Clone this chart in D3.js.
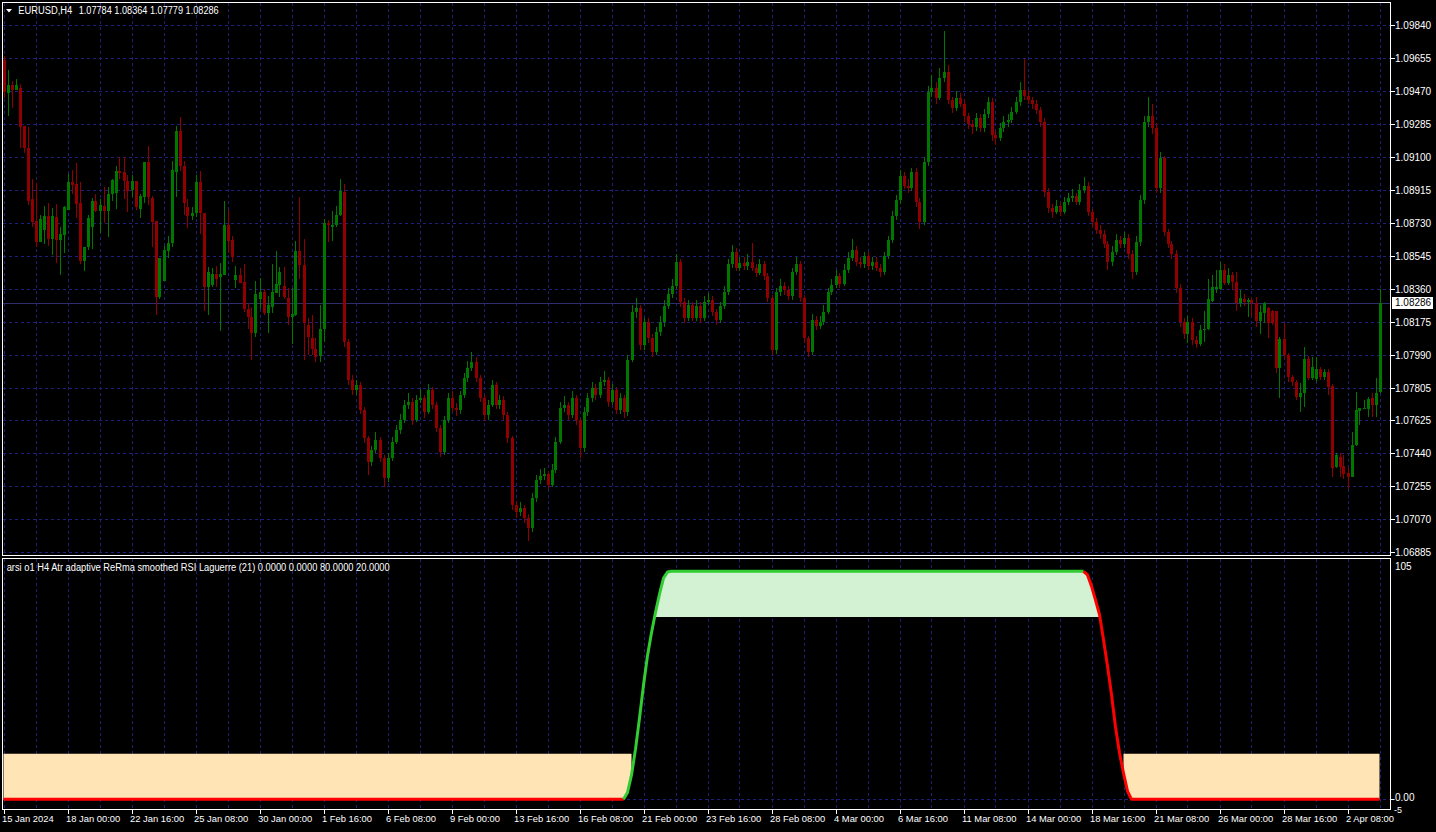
<!DOCTYPE html>
<html><head><meta charset="utf-8">
<script src="https://cdn.jsdelivr.net/npm/d3@7/dist/d3.min.js"></script>
<style>
html,body{margin:0;padding:0;background:#000;overflow:hidden}
text{font-family:"Liberation Sans",Arial,sans-serif;fill:#fff}
</style></head>
<body><svg id="c" width="1436" height="832"></svg>
<script>
// ---------- DATA ----------
const symbolTitle = "EURUSD,H4";
const ohlcTitle = "1.07784 1.08364 1.07779 1.08286";
const indTitle = "arsi o1 H4 Atr adaptive ReRma smoothed RSI Laguerre (21) 0.0000 0.0000 80.0000 20.0000";
const bidPrice = 1.08286;
const priceLabels = ["1.09840","1.09655","1.09470","1.09285","1.09100","1.08915","1.08730","1.08545","1.08360","1.08175","1.07990","1.07805","1.07625","1.07440","1.07255","1.07070","1.06885"];
const timeLabels = ["15 Jan 2024","18 Jan 00:00","22 Jan 16:00","25 Jan 08:00","30 Jan 00:00","1 Feb 16:00","6 Feb 08:00","9 Feb 00:00","13 Feb 16:00","16 Feb 08:00","21 Feb 00:00","23 Feb 16:00","28 Feb 08:00","4 Mar 00:00","6 Mar 16:00","11 Mar 08:00","14 Mar 00:00","18 Mar 16:00","21 Mar 08:00","26 Mar 00:00","28 Mar 16:00","2 Apr 08:00"];
const indLevels = [80, 20];
const indAxisLabels = ["105","0.00","-5"];

// bars 0..85
const opensA = [1.09646,1.09462,1.09504,1.09477,1.09490,1.09276,1.09152,1.08865,1.08741,1.08625,1.08693,1.08771,1.08642,1.08764,1.08637,1.08665,1.08805,1.08962,1.08951,1.08842,1.08521,1.08596,1.08711,1.08853,1.08801,1.08827,1.08799,1.08894,1.08902,1.09023,1.09018,1.08966,1.08917,1.08966,1.08812,1.08879,1.09074,1.08872,1.08741,1.08315,1.08408,1.08577,1.08618,1.09019,1.09248,1.09051,1.08820,1.08771,1.08786,1.08962,1.08790,1.08375,1.08384,1.08444,1.08427,1.08439,1.08719,1.08637,1.08412,1.08439,1.08401,1.08248,1.08203,1.08114,1.08304,1.08347,1.08226,1.08263,1.08341,1.08386,1.08379,1.08311,1.08203,1.08214,1.08577,1.08495,1.08160,1.08089,1.08024,1.07986,1.08136,1.08730,1.08708,1.08719,1.08775,1.08906];
const highsA = [1.09668,1.09590,1.09526,1.09537,1.09511,1.09276,1.09268,1.08977,1.08954,1.08775,1.08827,1.08842,1.08814,1.08838,1.08711,1.08829,1.09007,1.09029,1.09070,1.08963,1.08596,1.08775,1.08872,1.08894,1.08865,1.08935,1.08932,1.08980,1.09051,1.09100,1.09100,1.08999,1.09001,1.08966,1.08894,1.09074,1.09163,1.08883,1.08741,1.08536,1.08603,1.08659,1.09081,1.09276,1.09324,1.09081,1.08868,1.08823,1.09003,1.09025,1.08790,1.08484,1.08480,1.08491,1.08509,1.08853,1.08805,1.08659,1.08491,1.08480,1.08502,1.08282,1.08254,1.08408,1.08424,1.08364,1.08323,1.08502,1.08577,1.08484,1.08484,1.08367,1.08366,1.08633,1.08879,1.08642,1.08199,1.08216,1.08085,1.08272,1.08753,1.08749,1.08797,1.08827,1.08977,1.08951];
const lowsA = [1.09431,1.09332,1.09377,1.09477,1.09151,1.09126,1.08833,1.08711,1.08599,1.08625,1.08614,1.08603,1.08552,1.08509,1.08440,1.08562,1.08805,1.08894,1.08758,1.08502,1.08464,1.08580,1.08584,1.08795,1.08677,1.08730,1.08655,1.08857,1.08812,1.08980,1.08868,1.08795,1.08879,1.08805,1.08758,1.08842,1.08834,1.08599,1.08214,1.08304,1.08408,1.08534,1.08599,1.08876,1.09025,1.08777,1.08702,1.08749,1.08767,1.08670,1.08240,1.08214,1.08371,1.08375,1.08128,1.08439,1.08562,1.08515,1.08366,1.08394,1.08235,1.08136,1.07964,1.08091,1.08248,1.08214,1.08117,1.08229,1.08338,1.08315,1.08308,1.08158,1.08053,1.08210,1.08416,1.07964,1.07993,1.07992,1.07955,1.07950,1.08066,1.08627,1.08633,1.08711,1.08771,1.08035];
const closesA = [1.09468,1.09504,1.09477,1.09504,1.09272,1.09152,1.08855,1.08739,1.08625,1.08753,1.08771,1.08642,1.08771,1.08637,1.08668,1.08823,1.08962,1.08945,1.08838,1.08521,1.08596,1.08760,1.08853,1.08801,1.08831,1.08799,1.08894,1.08973,1.09023,1.09014,1.08969,1.08913,1.08966,1.08823,1.08883,1.09074,1.08876,1.08739,1.08315,1.08536,1.08580,1.08618,1.09029,1.09248,1.09051,1.08842,1.08771,1.08786,1.08962,1.08790,1.08375,1.08457,1.08444,1.08420,1.08444,1.08719,1.08633,1.08543,1.08439,1.08397,1.08248,1.08203,1.08114,1.08334,1.08347,1.08226,1.08271,1.08345,1.08390,1.08457,1.08315,1.08203,1.08222,1.08577,1.08495,1.08173,1.08091,1.08024,1.07982,1.08136,1.08730,1.08719,1.08719,1.08775,1.08910,1.08066];

// bars 86..299
const opensB = [1.08066,1.07852,1.07796,1.07824,1.07684,1.07527,1.07392,1.07459,1.07515,1.07415,
1.07302,1.07415,1.07504,1.07571,1.07627,1.07712,1.07728,1.07627,1.07740,1.07751,
1.07673,1.07796,1.07712,1.07583,1.07448,1.07627,1.07751,1.07695,1.07684,1.07768,
1.07863,1.07919,1.07953,1.07863,1.07751,1.07655,1.07712,1.07824,1.07712,1.07740,
1.07655,1.07527,1.07151,1.07112,1.07134,1.07078,1.07022,1.07190,1.07291,1.07314,
1.07325,1.07263,1.07347,1.07504,1.07695,1.07712,1.07655,1.07751,1.07627,1.07470,
1.07672,1.07751,1.07807,1.07768,1.07841,1.07852,1.07728,1.07796,1.07684,1.07751,
1.07673,1.07964,1.08233,1.08255,1.08048,1.08177,1.08087,1.08009,1.08121,1.08177,
1.08267,1.08334,1.08379,1.08513,1.08289,1.08199,1.08272,1.08199,1.08267,1.08199,
1.08289,1.08300,1.08233,1.08188,1.08267,1.08345,1.08502,1.08569,1.08480,1.08508,
1.08491,1.08513,1.08480,1.08452,1.08502,1.08435,1.08311,1.08020,1.08345,1.08379,
1.08356,1.08323,1.08457,1.08502,1.08311,1.08087,1.08009,1.08188,1.08154,1.08177,
1.08233,1.08345,1.08384,1.08435,1.08390,1.08468,1.08536,1.08580,1.08513,1.08502,
1.08547,1.08491,1.08513,1.08480,1.08457,1.08547,1.08637,1.08771,1.08861,1.08995,
1.08939,1.08928,1.09018,1.08850,1.08738,1.09074,1.09466,1.09489,1.09433,1.09545,
1.09578,1.09421,1.09376,1.09433,1.09399,1.09332,1.09287,1.09270,1.09320,1.09264,
1.09343,1.09410,1.09225,1.09208,1.09264,1.09298,1.09309,1.09354,1.09410,1.09477,
1.09444,1.09421,1.09399,1.09365,1.09298,1.08906,1.08816,1.08794,1.08827,1.08794,
1.08850,1.08872,1.08883,1.08850,1.08917,1.08939,1.08794,1.08738,1.08693,1.08670,
1.08614,1.08513,1.08569,1.08637,1.08614,1.08648,1.08558,1.08457,1.08625,1.08861,
1.09298,1.09332,1.09264,1.08928,1.09096,1.08681,1.08614,1.08558,1.08367,1.08177,
1.08110,1.08177,1.08076,1.08053];
const highsB = [1.08080,1.07880,1.07850,1.07840,1.07700,1.07540,1.07480,1.07560,1.07530,1.07430,
1.07440,1.07530,1.07600,1.07660,1.07740,1.07780,1.07750,1.07770,1.07800,1.07770,
1.07830,1.07810,1.07730,1.07600,1.07650,1.07780,1.07790,1.07720,1.07790,1.07890,
1.07960,1.08010,1.07980,1.07880,1.07770,1.07740,1.07850,1.07840,1.07770,1.07760,
1.07670,1.07540,1.07170,1.07170,1.07150,1.07100,1.07220,1.07320,1.07350,1.07360,
1.07340,1.07380,1.07530,1.07730,1.07760,1.07730,1.07790,1.07770,1.07640,1.07700,
1.07780,1.07840,1.07830,1.07870,1.07900,1.07870,1.07830,1.07810,1.07780,1.07770,
1.07990,1.08270,1.08310,1.08270,1.08200,1.08200,1.08110,1.08150,1.08210,1.08300,
1.08370,1.08420,1.08560,1.08530,1.08310,1.08300,1.08290,1.08300,1.08290,1.08320,
1.08340,1.08320,1.08250,1.08290,1.08380,1.08530,1.08610,1.08590,1.08540,1.08540,
1.08560,1.08620,1.08500,1.08530,1.08520,1.08450,1.08330,1.08370,1.08420,1.08400,
1.08380,1.08480,1.08540,1.08520,1.08330,1.08100,1.08220,1.08210,1.08210,1.08270,
1.08370,1.08420,1.08470,1.08450,1.08500,1.08570,1.08640,1.08600,1.08540,1.08570,
1.08570,1.08540,1.08540,1.08500,1.08570,1.08660,1.08800,1.08890,1.09030,1.09020,
1.08980,1.09040,1.09040,1.08870,1.09100,1.09500,1.09560,1.09520,1.09600,1.09810,
1.09620,1.09440,1.09470,1.09460,1.09420,1.09350,1.09310,1.09350,1.09340,1.09370,
1.09440,1.09430,1.09250,1.09290,1.09330,1.09340,1.09380,1.09440,1.09520,1.09650,
1.09480,1.09440,1.09420,1.09380,1.09320,1.08930,1.08840,1.08860,1.08850,1.08880,
1.08900,1.08920,1.08900,1.08950,1.08990,1.08960,1.08810,1.08760,1.08720,1.08690,
1.08630,1.08600,1.08670,1.08660,1.08680,1.08670,1.08580,1.08660,1.08890,1.09330,
1.09440,1.09400,1.09290,1.09130,1.09110,1.08700,1.08630,1.08580,1.08390,1.08200,
1.08210,1.08200,1.08100,1.08160];
const lowsB = [1.07824,1.07768,1.07770,1.07660,1.07500,1.07320,1.07370,1.07440,1.07390,1.07250,
1.07280,1.07400,1.07490,1.07550,1.07610,1.07690,1.07600,1.07615,1.07720,1.07640,
1.07660,1.07690,1.07560,1.07420,1.07430,1.07610,1.07670,1.07650,1.07660,1.07750,
1.07840,1.07900,1.07840,1.07730,1.07620,1.07630,1.07700,1.07690,1.07690,1.07630,
1.07500,1.07120,1.07080,1.07090,1.07050,1.06950,1.07000,1.07170,1.07270,1.07290,
1.07240,1.07250,1.07330,1.07490,1.07670,1.07630,1.07640,1.07600,1.07415,1.07450,
1.07650,1.07730,1.07740,1.07750,1.07820,1.07700,1.07710,1.07660,1.07660,1.07640,
1.07650,1.07950,1.08200,1.08020,1.08020,1.08060,1.07980,1.07990,1.08100,1.08150,
1.08250,1.08310,1.08360,1.08260,1.08170,1.08180,1.08180,1.08180,1.08170,1.08180,
1.08270,1.08210,1.08160,1.08170,1.08250,1.08330,1.08480,1.08460,1.08460,1.08470,
1.08470,1.08460,1.08430,1.08440,1.08410,1.08290,1.07990,1.08000,1.08320,1.08330,
1.08300,1.08300,1.08440,1.08290,1.08060,1.07980,1.07990,1.08130,1.08140,1.08160,
1.08220,1.08330,1.08370,1.08370,1.08380,1.08450,1.08520,1.08490,1.08480,1.08480,
1.08470,1.08470,1.08460,1.08430,1.08440,1.08530,1.08620,1.08750,1.08840,1.08920,
1.08900,1.08910,1.08820,1.08700,1.08720,1.09050,1.09440,1.09400,1.09420,1.09520,
1.09400,1.09350,1.09360,1.09380,1.09300,1.09260,1.09230,1.09250,1.09240,1.09240,
1.09320,1.09190,1.09170,1.09190,1.09240,1.09270,1.09290,1.09340,1.09390,1.09420,
1.09400,1.09370,1.09340,1.09270,1.08880,1.08790,1.08760,1.08780,1.08770,1.08780,
1.08830,1.08850,1.08830,1.08830,1.08900,1.08770,1.08710,1.08670,1.08640,1.08590,
1.08470,1.08490,1.08550,1.08590,1.08590,1.08530,1.08420,1.08440,1.08600,1.08840,
1.09270,1.09230,1.08900,1.08900,1.08660,1.08590,1.08530,1.08340,1.08150,1.08080,
1.08060,1.08050,1.08030,1.08040];
const closesB = [1.07852,1.07796,1.07824,1.07684,1.07527,1.07392,1.07459,1.07515,1.07415,1.07302,
1.07415,1.07504,1.07571,1.07627,1.07712,1.07728,1.07627,1.07740,1.07751,1.07673,
1.07796,1.07712,1.07583,1.07448,1.07627,1.07751,1.07695,1.07684,1.07768,1.07863,
1.07919,1.07953,1.07863,1.07751,1.07655,1.07712,1.07824,1.07712,1.07740,1.07655,
1.07527,1.07151,1.07112,1.07134,1.07078,1.07022,1.07190,1.07291,1.07314,1.07325,
1.07263,1.07347,1.07504,1.07695,1.07712,1.07655,1.07751,1.07627,1.07470,1.07672,
1.07751,1.07807,1.07768,1.07841,1.07852,1.07728,1.07796,1.07684,1.07751,1.07673,
1.07964,1.08233,1.08255,1.08048,1.08177,1.08087,1.08009,1.08121,1.08177,1.08267,
1.08334,1.08379,1.08513,1.08289,1.08199,1.08272,1.08199,1.08267,1.08199,1.08289,
1.08300,1.08233,1.08188,1.08267,1.08345,1.08502,1.08569,1.08480,1.08508,1.08491,
1.08513,1.08480,1.08452,1.08502,1.08435,1.08311,1.08020,1.08345,1.08379,1.08356,
1.08323,1.08457,1.08502,1.08311,1.08087,1.08009,1.08188,1.08154,1.08177,1.08233,
1.08345,1.08384,1.08435,1.08390,1.08468,1.08536,1.08580,1.08513,1.08502,1.08547,
1.08491,1.08513,1.08480,1.08457,1.08547,1.08637,1.08771,1.08861,1.08995,1.08939,
1.08928,1.09018,1.08850,1.08738,1.09074,1.09466,1.09489,1.09433,1.09545,1.09578,
1.09421,1.09376,1.09433,1.09399,1.09332,1.09287,1.09270,1.09320,1.09264,1.09343,
1.09410,1.09225,1.09208,1.09264,1.09298,1.09309,1.09354,1.09410,1.09477,1.09444,
1.09421,1.09399,1.09365,1.09298,1.08906,1.08816,1.08794,1.08827,1.08794,1.08850,
1.08872,1.08883,1.08850,1.08917,1.08939,1.08794,1.08738,1.08693,1.08670,1.08614,
1.08513,1.08569,1.08637,1.08614,1.08648,1.08558,1.08457,1.08625,1.08861,1.09298,
1.09332,1.09264,1.08928,1.09096,1.08681,1.08614,1.08558,1.08367,1.08177,1.08110,
1.08177,1.08076,1.08053,1.08132];

// bars 300..344
const opensC = [1.08132,1.08140,1.08296,1.08363,1.08360,1.08468,1.08397,1.08440,1.08401,1.08282,1.08304,1.08291,1.08300,1.08285,1.08184,1.08229,1.08257,1.08239,1.08239,1.07917,1.08082,1.07990,1.07870,1.07842,1.07758,1.07777,1.07969,1.07861,1.07856,1.07913,1.07867,1.07898,1.07818,1.07366,1.07418,1.07370,1.07332,1.07310,1.07487,1.07680,1.07687,1.07687,1.07752,1.07712,1.07784];
const highsC = [1.08239,1.08420,1.08440,1.08468,1.08513,1.08502,1.08480,1.08457,1.08457,1.08356,1.08334,1.08310,1.08315,1.08319,1.08272,1.08291,1.08263,1.08244,1.08240,1.08091,1.08170,1.08001,1.07880,1.07852,1.07833,1.08038,1.07986,1.07982,1.07982,1.07925,1.07913,1.07913,1.07829,1.07444,1.07444,1.07431,1.07357,1.07559,1.07786,1.07693,1.07740,1.07755,1.07777,1.07861,1.08364];
const lowsC = [1.08065,1.08132,1.08289,1.08338,1.08356,1.08384,1.08384,1.08356,1.08240,1.08263,1.08267,1.08203,1.08203,1.08151,1.08110,1.08170,1.08085,1.08160,1.07893,1.07749,1.07968,1.07842,1.07818,1.07740,1.07674,1.07702,1.07852,1.07852,1.07842,1.07852,1.07852,1.07768,1.07306,1.07357,1.07310,1.07295,1.07239,1.07306,1.07482,1.07600,1.07687,1.07646,1.07643,1.07646,1.07779];
const closesC = [1.08140,1.08304,1.08371,1.08375,1.08468,1.08397,1.08440,1.08401,1.08282,1.08310,1.08291,1.08300,1.08282,1.08184,1.08235,1.08282,1.08173,1.08173,1.07917,1.08082,1.07990,1.07870,1.07842,1.07758,1.07777,1.07969,1.07861,1.07923,1.07913,1.07867,1.07898,1.07814,1.07357,1.07431,1.07366,1.07325,1.07310,1.07487,1.07684,1.07693,1.07693,1.07745,1.07712,1.07777,1.08286];

const rsiValues = [
0,0,0,0,0,0,0,0,0,0,0,0,0,0,0,0,0,0,0,0,0,0,0,0,0,0,0,0,0,0,0,0,0,0,0,0,0,0,0,0,
0,0,0,0,0,0,0,0,0,0,0,0,0,0,0,0,0,0,0,0,0,0,0,0,0,0,0,0,0,0,0,0,0,0,0,0,0,0,0,0,
0,0,0,0,0,0,0,0,0,0,0,0,0,0,0,0,0,0,0,0,0,0,0,0,0,0,0,0,0,0,0,0,0,0,0,0,0,0,0,0,
0,0,0,0,0,0,0,0,0,0,0,0,0,0,0,0,0,0,0,0,0,0,0,0,0,0,0,0,0,0,0,0,0,0,0,0,
3,10.7,22,35.6,50,63,73,82,90,97,99.7,
100,100,100,100,100,100,100,100,100,100,100,100,100,100,100,100,100,100,100,100,
100,100,100,100,100,100,100,100,100,100,100,100,100,100,100,100,100,100,100,100,
100,100,100,100,100,100,100,100,100,100,100,100,100,100,100,100,100,100,100,100,
100,100,100,100,100,100,100,100,100,100,100,100,100,100,100,100,100,100,100,100,
100,100,100,100,100,100,100,100,100,100,100,100,100,100,100,100,100,100,100,100,
100,100,100,100,
98.4,93.5,87.4,81,70,58.5,46,31.7,20.3,11.5,3.6,
0,0,0,0,0,0,0,0,0,0,0,0,0,0,0,0,0,0,0,0,0,0,0,0,0,0,0,0,0,0,0,0,0,0,0,0,0,0,0,0,
0,0,0,0,0,0,0,0,0,0,0,0,0,0,0,0,0,0,0,0,0,0,0];

// assemble bars
const opens = opensA.concat(opensB, opensC);
const highs = highsA.concat(highsB, highsC);
const lows = lowsA.concat(lowsB, lowsC);
const closes = closesA.concat(closesB, closesC);
const bars = opens.map((o,i)=>({o, h:highs[i], l:lows[i], c:closes[i]}));
const N = bars.length;

// ---------- LAYOUT ----------
const svg = d3.select("#c");
const C = {bull:"#007800", bear:"#900000", grid:"#20207a", frame:"#ffffff", indUp:"#32cd32", indDn:"#ff0000", fillHi:"#d3f2d3", fillLo:"#ffe4b5"};
const mainTop=2.5, mainBot=555.5, indTop=558.5, indBot=809.5, right=1390.5, left=2.5;

const x = d3.scaleLinear().domain([0, N-1]).range([3.5, 3.5+4*(N-1)]);
const y = d3.scaleLinear().domain([1.068705, 1.099706]).range([555, 2]);
const yi = d3.scaleLinear().domain([-5, 105]).range([810.7, 559.9]);

// grid
const grid = svg.append("g").attr("shape-rendering","crispEdges").attr("stroke",C.grid).attr("stroke-dasharray","3,3");
const gridBars = d3.range(0, N, 8);
grid.selectAll("line.vm").data(gridBars).join("line").attr("x1",d=>Math.round(x(d))+0.5).attr("x2",d=>Math.round(x(d))+0.5).attr("y1",mainTop).attr("y2",mainBot);
grid.selectAll("line.hm").data(priceLabels).join("line").attr("x1",left).attr("x2",right).attr("y1",d=>Math.round(y(+d))+0.5).attr("y2",d=>Math.round(y(+d))+0.5);

// bid line
svg.append("line").attr("x1",left).attr("x2",right).attr("y1",Math.round(y(bidPrice))+0.5).attr("y2",Math.round(y(bidPrice))+0.5).attr("stroke","#2e2e6e").attr("shape-rendering","crispEdges");

// candles
const cg = svg.append("g").attr("shape-rendering","crispEdges");
const cs = cg.selectAll("g").data(bars).join("g");
cs.append("line").attr("x1",(d,i)=>Math.round(x(i))+0.5).attr("x2",(d,i)=>Math.round(x(i))+0.5)
  .attr("y1",d=>y(d.h)).attr("y2",d=>y(d.l)).attr("stroke",d=>d.c>=d.o?C.bull:C.bear);
cs.append("rect").attr("x",(d,i)=>Math.round(x(i))-1).attr("width",3)
  .attr("y",d=>y(Math.max(d.o,d.c))).attr("height",d=>Math.max(1,y(Math.min(d.o,d.c))-y(Math.max(d.o,d.c))))
  .attr("fill",d=>d.c>=d.o?C.bull:C.bear);

// frames
svg.append("rect").attr("x",left).attr("y",mainTop).attr("width",right-left).attr("height",mainBot-mainTop).attr("fill","none").attr("stroke",C.frame).attr("shape-rendering","crispEdges");

// price axis
const pa = svg.append("g");
pa.selectAll("line").data(priceLabels).join("line").attr("x1",right).attr("x2",right+4).attr("y1",d=>Math.round(y(+d))+0.5).attr("y2",d=>Math.round(y(+d))+0.5).attr("stroke","#fff").attr("shape-rendering","crispEdges");
pa.selectAll("text").data(priceLabels).join("text").attr("x",1395).attr("y",d=>y(+d)+3.6).attr("font-size","10px").text(d=>d);

// bid label
const by = y(bidPrice);
svg.append("rect").attr("x",1392).attr("y",Math.round(by)-6).attr("width",41).attr("height",12).attr("fill","#fff");
svg.append("text").attr("x",1395).attr("y",by+3.6).attr("font-size","10px").style("fill","#000").text(bidPrice.toFixed(5));

// header
svg.append("path").attr("d","M6,9 L12,9 L9,12.5 Z").attr("fill","#fff");
svg.append("text").attr("x",18.3).attr("y",14.2).attr("font-size","10px").attr("textLength",54).attr("lengthAdjust","spacingAndGlyphs").text(symbolTitle);
svg.append("text").attr("x",78.7).attr("y",14.2).attr("font-size","10px").attr("textLength",140).attr("lengthAdjust","spacingAndGlyphs").text(ohlcTitle);

// ---------- INDICATOR ----------
const ig = svg.append("g");
ig.append("g").attr("shape-rendering","crispEdges").attr("stroke",C.grid).attr("stroke-dasharray","3,3")
  .selectAll("line").data(gridBars).join("line").attr("x1",d=>Math.round(x(d))+0.5).attr("x2",d=>Math.round(x(d))+0.5).attr("y1",indTop).attr("y2",indBot);
ig.append("line").attr("x1",left).attr("x2",right).attr("y1",Math.round(yi(0))+0.5).attr("y2",Math.round(yi(0))+0.5).attr("stroke",C.grid).attr("stroke-dasharray","3,3").attr("shape-rendering","crispEdges");

const hiArea = d3.area().defined(d=>d>indLevels[0]).x((d,i)=>x(i)).y0(yi(indLevels[0])).y1(d=>yi(d));
const loArea = d3.area().defined(d=>d<indLevels[1]).x((d,i)=>x(i)).y0(yi(indLevels[1])).y1(d=>yi(d));
ig.append("path").attr("d",hiArea(rsiValues)).attr("fill",C.fillHi);
ig.append("path").attr("d",loArea(rsiValues)).attr("fill",C.fillLo);

// colored line: runs
let colors=[C.indDn];
for(let i=1;i<N;i++){ const v=rsiValues[i],p=rsiValues[i-1]; colors.push(v>p?C.indUp:(v<p?C.indDn:colors[i-1])); }
const runs=[]; let cur=null;
for(let i=1;i<N;i++){ if(!cur||cur.color!==colors[i]){ cur={color:colors[i],pts:[i-1]}; runs.push(cur);} cur.pts.push(i); }
const ln = d3.line().x(i=>x(i)).y(i=>yi(rsiValues[i]));
ig.selectAll("path.run").data(runs).join("path").attr("class","run").attr("d",r=>ln(r.pts)).attr("fill","none").attr("stroke",r=>r.color).attr("stroke-width",3).attr("stroke-linejoin","round");

ig.append("rect").attr("x",left).attr("y",indTop).attr("width",right-left).attr("height",indBot-indTop).attr("fill","none").attr("stroke",C.frame).attr("shape-rendering","crispEdges");
ig.append("text").attr("x",6.7).attr("y",571).attr("font-size","10px").attr("textLength",383).attr("lengthAdjust","spacingAndGlyphs").text(indTitle);

// indicator axis
const iax=[{t:indAxisLabels[0],yy:569.5,xx:1395,fs:10},{t:indAxisLabels[1],yy:801,xx:1395,fs:10},{t:indAxisLabels[2],yy:813,xx:1394,fs:9}];
ig.selectAll("text.ia").data(iax).join("text").attr("class","ia").attr("x",d=>d.xx).attr("y",d=>d.yy).attr("font-size",d=>d.fs+"px").text(d=>d.t);
ig.append("line").attr("x1",right).attr("x2",right+4).attr("y1",Math.round(yi(0))+0.5).attr("y2",Math.round(yi(0))+0.5).attr("stroke","#fff");

// time axis
const tickBars = timeLabels.map((t,k)=>k*16);
const xa = svg.append("g").attr("transform",`translate(0,${indBot})`);
const axis = d3.axisBottom(x).tickValues(tickBars).tickFormat((d,k)=>timeLabels[k]).tickSize(4).tickSizeOuter(0);
xa.call(axis);
xa.select(".domain").remove();
xa.selectAll(".tick line").attr("stroke","#fff").attr("shape-rendering","crispEdges");
xa.selectAll(".tick text").attr("text-anchor","start").attr("dx",-2).attr("y",6).attr("dy","0.71em").attr("font-size","9.4px").attr("font-family","Liberation Sans, Arial, sans-serif").style("fill","#fff");
</script>
</body></html>
